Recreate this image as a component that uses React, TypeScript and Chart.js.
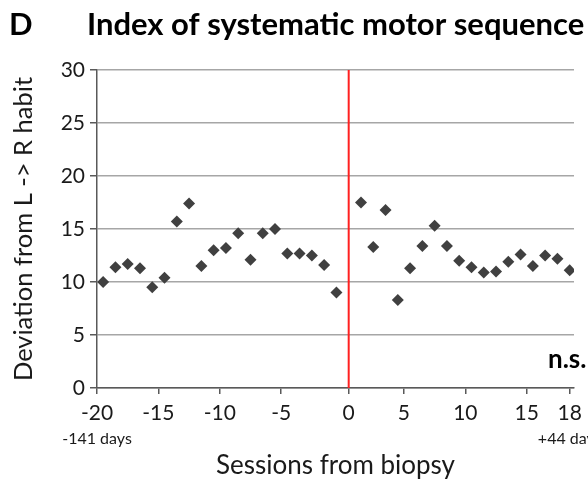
import React, { useEffect, useRef } from "react";
import { Chart, registerables } from "chart.js";

Chart.register(...registerables);

// ---- data ----
const preSessions = [-20, -19, -18, -17, -16, -15, -14, -13, -12, -11, -10, -9, -8, -7, -6, -5, -4, -3, -2, -1];
const preValues = [10.0, 11.4, 11.7, 11.3, 9.5, 10.4, 15.7, 17.4, 11.5, 13.0, 13.2, 14.6, 12.1, 14.6, 15.0, 12.7, 12.7, 12.5, 11.6, 9.0];
const postSessions = [1, 2, 3, 4, 5, 6, 7, 8, 9, 10, 11, 12, 13, 14, 15, 16, 17, 18];
const postValues = [17.5, 13.3, 16.8, 8.3, 11.3, 13.4, 15.3, 13.4, 12.0, 11.4, 10.9, 11.0, 11.9, 12.6, 11.5, 12.5, 12.2, 11.1];
const xTickValues = [-20, -15, -10, -5, 0, 5, 10, 15, 18];
const yTickValues = [0, 5, 10, 15, 20, 25, 30];
const biopsySession = 0;

const panelLetter = "D";
const titleText = "Index of systematic motor sequence";
const yTitleText = "Deviation from L -> R habit";
const xTitleText = "Sessions from biopsy";
const startNote = "-141 days";
const endNote = "+44 days";
const sigNote = "n.s.";

const FONT = "Lato";
const TEXT = "#1a1a1a";

export default function App() {
  const ref = useRef<HTMLCanvasElement | null>(null);
  useEffect(() => {
    const canvas = ref.current;
    if (!canvas) return;
    const points = [
      ...preSessions.map((x, i) => ({ x, y: preValues[i] })),
      ...postSessions.map((x, i) => ({ x, y: postValues[i] })),
    ];
    const textPlugin = {
      id: "texts",
      afterDraw(chart: any) {
        const ctx = chart.ctx;
        const xs = chart.scales.x;
        const area = chart.chartArea;
        ctx.save();
        ctx.fillStyle = "#000";
        ctx.textBaseline = "alphabetic";
        ctx.textAlign = "left";
        ctx.font = `bold 31px ${FONT}`;
        ctx.fillText(panelLetter, 9, 35);
        ctx.fillText(titleText, 87, 35);
        ctx.fillStyle = TEXT;
        ctx.textBaseline = "middle";
        ctx.textAlign = "center";
        ctx.font = `16px ${FONT}`;
        ctx.fillText(startNote, xs.getPixelForValue(xTickValues[0] - 0.5), 439);
        ctx.fillText(endNote, xs.getPixelForValue(xTickValues[xTickValues.length - 1]), 439);
        ctx.font = `bold 26px ${FONT}`;
        ctx.textAlign = "left";
        ctx.textBaseline = "alphabetic";
        ctx.fillStyle = "#000";
        ctx.fillText(sigNote, area.right - 26, 368);
        ctx.restore();
      },
    };
    const chart = new Chart(canvas, {
      type: "scatter",
      data: {
        datasets: [
          {
            type: "line",
            data: [
              { x: biopsySession, y: yTickValues[0] },
              { x: biopsySession, y: yTickValues[yTickValues.length - 1] },
            ],
            borderColor: "#ff2020",
            borderWidth: 2,
            pointRadius: 0,
            order: 2,
          } as any,
          {
            data: points,
            pointStyle: "rectRot",
            pointRadius: 6,
            backgroundColor: "#404040",
            borderColor: "#404040",
            borderWidth: 0,
            order: 1,
          },
        ],
      },
      options: {
        responsive: false,
        animation: false,
        devicePixelRatio: 1,
        layout: { padding: { left: 4, top: 70, right: 14, bottom: 0 } },
        plugins: { legend: { display: false }, tooltip: { enabled: false }, title: { display: false } },
        scales: {
          x: {
            type: "linear",
            min: -20.5,
            max: 18.35,
            afterBuildTicks(scale: any) {
              scale.ticks = xTickValues.map((v) => ({
                value: v === 0 || v === xTickValues[xTickValues.length - 1] ? v : v - 0.5,
                label: String(v),
              }));
            },
            afterFit(scale: any) {
              scale.height = 94;
              scale.paddingLeft = 0;
              scale.paddingRight = 0;
            },
            ticks: {
              autoSkip: false,
              maxRotation: 0,
              padding: 7,
              color: TEXT,
              font: { family: FONT, size: 21 },
              callback: (_v: any, i: number) => String(xTickValues[i]),
            },
            grid: { drawOnChartArea: false, drawTicks: true, tickLength: 6, tickColor: "#595959", lineWidth: 1.5 },
            border: { color: "#595959", width: 1.5 },
            title: {
              display: true,
              text: xTitleText,
              color: TEXT,
              font: { family: FONT, size: 26 },
              padding: { top: 0, bottom: 1 },
            },
          },
          y: {
            type: "linear",
            min: 0,
            max: 30,
            afterBuildTicks(scale: any) {
              scale.ticks = yTickValues.map((v) => ({ value: v }));
            },
            afterFit(scale: any) {
              scale.width = 93;
              scale.paddingTop = 0;
              scale.paddingBottom = 0;
            },
            ticks: {
              padding: 5,
              color: TEXT,
              font: { family: FONT, size: 21 },
            },
            grid: { color: "#a6a6a6", lineWidth: 1.5, tickLength: 7, tickColor: "#595959" },
            border: { color: "#595959", width: 1.5 },
            title: {
              display: true,
              text: yTitleText,
              color: TEXT,
              font: { family: FONT, size: 25.5 },
            },
          },
        },
      },
      plugins: [textPlugin],
    } as any);
    return () => chart.destroy();
  }, []);
  return (
    <div style={{ position: "absolute", left: 0, top: 0, width: 588, height: 482 }}>
      <canvas ref={ref} width={588} height={482} style={{ width: 588, height: 482, display: "block" }} />
    </div>
  );
}
